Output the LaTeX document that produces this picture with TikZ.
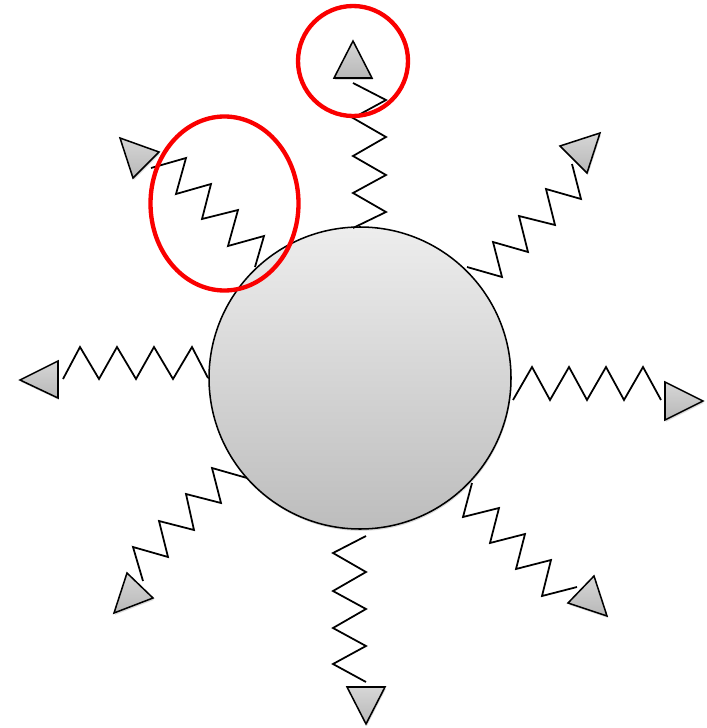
\documentclass[tikz,border=0pt]{standalone}
\usepackage{xcolor}
\usepackage{tikz}
\usetikzlibrary{shadows}
\definecolor{ringred}{RGB}{250,0,0}

\begin{document}
\begin{tikzpicture}[x=.3mm,y=-.3mm,
  spring/.style={draw=black,line width=1.5pt,line join=miter},
  core/.style={draw=black,line width=1.3pt,top color=black!7,bottom color=black!26,
    drop shadow={opacity=.3,shadow xshift=.6pt,shadow yshift=-1.6pt}},
  tip/.style={draw=black,line width=1.3pt,top color=black!16,bottom color=black!28,line join=miter,
    drop shadow={opacity=.3,shadow xshift=.8pt,shadow yshift=-1.6pt}},
  mark ring/.style={draw=ringred,line width=3.7pt}]

\path[use as bounding box] (0,0) rectangle (707,728);
\path[core] (360,378) circle[radius=151];
\draw[spring] (353,228)--(386,212)--(353,193)--(386,175)--(353,156)--(386,137)--(353,118)--(386,100)--(353,83);
\draw[spring] (255,267)--(264,236)--(228,246)--(238,210)--(202,219)--(211,184)--(176,194)--(186,158)--(151,168);
\draw[spring] (208,378)--(192,347)--(173,379)--(154,347)--(136,379)--(117,347)--(99,379)--(80,347)--(63,379);
\draw[spring] (247,478)--(212,468)--(221,503)--(186,494)--(194,530)--(159,521)--(168,557)--(133,547)--(143,581);
\draw[spring] (366,536)--(333,553)--(366,572)--(333,591)--(366,609)--(333,628)--(366,646)--(333,664)--(366,682);
\draw[spring] (472,483)--(463,517)--(499,508)--(490,543)--(525,534)--(516,569)--(551,560)--(542,596)--(577,587);
\draw[spring] (513,400)--(532,367)--(550,400)--(569,367)--(587,400)--(606,367)--(624,400)--(643,367)--(661,400);
\draw[spring] (467,267)--(502,277)--(493,242)--(528,252)--(519,216)--(555,225)--(546,189)--(581,199)--(572,164);
\path[tip] (353,41)--(334,78)--(372,78)--cycle;
\path[tip] (120,138)--(159,152)--(133,178)--cycle;
\path[tip] (20,380)--(58,361)--(58,398)--cycle;
\path[tip] (127,573)--(153,598)--(114,613)--cycle;
\path[tip] (347,687)--(385,687)--(366,724)--cycle;
\path[tip] (594,576)--(607,616)--(568,603)--cycle;
\path[tip] (665,382)--(703,401)--(665,420)--cycle;
\path[tip] (560,146)--(600,133)--(587,173)--cycle;
\draw[mark ring] (353,61) circle[radius=55];
\draw[mark ring] (224.5,203.5) ellipse[x radius=74,y radius=87];

\end{tikzpicture}
\end{document}
